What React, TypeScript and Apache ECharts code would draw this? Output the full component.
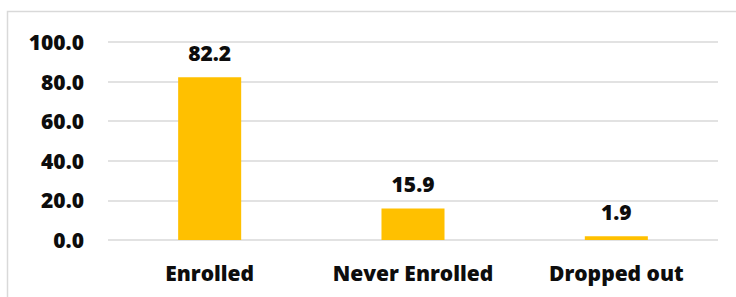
import React, { useEffect, useRef } from "react";
import * as echarts from "echarts";

const categories = ["Enrolled", "Never Enrolled", "Dropped out"];
const values = [82.2, 15.9, 1.9];
const yTicks = [0, 20, 40, 60, 80, 100];

const FONT = "Open Sans";

export default function App() {
  const ref = useRef<HTMLDivElement>(null);
  useEffect(() => {
    document.body.style.margin = "0";
    const chart = echarts.init(ref.current!, null, { renderer: "svg" });
    chart.setOption({
      animation: false,
      backgroundColor: "#ffffff",
      graphic: [
        {
          type: "rect",
          shape: { x: 7.5, y: 11.5, width: 800, height: 400 },
          style: { fill: "none", stroke: "#D9D9D9", lineWidth: 1.5 },
          silent: true,
        },
      ],
      grid: { left: 108, right: 18, top: 42, bottom: 57, containLabel: false },
      xAxis: {
        type: "category",
        data: categories,
        axisLine: { show: false },
        axisTick: { show: false },
        axisLabel: {
          interval: 0,
          hideOverlap: false,
          color: "#0d0d0d",
          fontFamily: FONT,
          fontWeight: 800,
          fontSize: 21,
          margin: 22,
        },
      },
      yAxis: {
        type: "value",
        min: yTicks[0],
        max: yTicks[yTicks.length - 1],
        interval: 20,
        axisLine: { show: false },
        axisTick: { show: false },
        splitLine: { lineStyle: { color: "#D9D9D9", width: 1.5 } },
        axisLabel: {
          color: "#0d0d0d",
          fontFamily: FONT,
          fontWeight: 800,
          fontSize: 21,
          margin: 24,
          formatter: (v: number) => v.toFixed(1),
        },
      },
      series: [
        {
          type: "bar",
          data: values,
          barWidth: "31%",
          itemStyle: { color: "#FFC000" },
          label: {
            show: true,
            position: "top",
            distance: 14,
            color: "#0d0d0d",
            fontFamily: FONT,
            fontWeight: 800,
            fontSize: 21,
            formatter: (p: any) => Number(p.value).toFixed(1),
          },
        },
      ],
    });
    return () => chart.dispose();
  }, []);
  return <div ref={ref} style={{ width: 736, height: 297 }} />;
}
